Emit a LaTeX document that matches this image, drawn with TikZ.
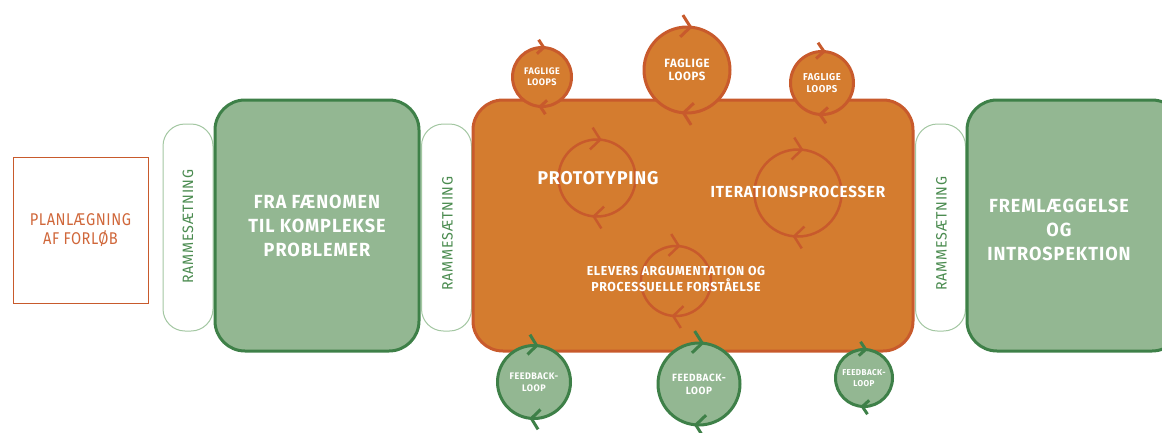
\documentclass[tikz,border=0pt]{standalone}
\usepackage{fontspec}
\setmainfont{Fira Sans}[FakeStretch=0.95, LetterSpace=5]
\newfontfamily\planfont{Fira Sans}[FakeStretch=0.86, LetterSpace=3]
\usetikzlibrary{arrows.meta, decorations.markings}

\definecolor{orangefill}{HTML}{D47C2F}
\definecolor{orangeline}{HTML}{C85A2C}
\definecolor{greenfill}{HTML}{93B792}
\definecolor{greenline}{HTML}{3E8048}
\definecolor{paleline}{HTML}{A3C7A2}
\definecolor{greentext}{HTML}{4A8B4F}
\definecolor{plantext}{HTML}{D0673A}

\tikzset{
  planbox/.style={draw=orangeline, line width=0.8pt, fill=white, minimum width=135pt, minimum height=146pt,
    inner sep=0pt, align=center, text=plantext, font=\planfont\fontsize{17}{19}\selectfont},
  framing/.style={draw=paleline, line width=1pt, fill=white, rounded corners=22pt,
    minimum width=50pt, minimum height=207pt, inner sep=0pt},
  framingtext/.style={rotate=90, text=greentext, font=\fontsize{15}{15}\selectfont},
  phase/.style={rounded corners=30pt, line width=3pt, inner sep=0pt, minimum height=251pt,
    text=white, align=center, font=\bfseries\fontsize{19}{24}\selectfont},
  greenphase/.style={phase, fill=greenfill, draw=greenline},
  orangephase/.style={phase, fill=orangefill, draw=orangeline},
  phasetext/.style={text=white, align=center, font=\bfseries\fontsize{19}{24}\selectfont},
  loopring/.style 2 args={circle, inner sep=0pt, postaction={decorate},
    decoration={markings,
      mark=at position 0.23 with {\arrowreversed{Straight Barb[length=#1, width=#2]}},
      mark=at position 0.73 with {\arrowreversed{Straight Barb[length=#1, width=#2]}}}},
  innerloop/.style={loopring={9pt}{22pt}, draw=orangeline, line width=2.5pt},
  fagligloop/.style={fill=orangefill, draw=orangeline, line width=3pt, text=white, align=center},
  feedbackloop/.style={fill=greenfill, draw=greenline, line width=3pt, text=white, align=center},
}

\begin{document}
\begin{tikzpicture}[x=1pt, y=-1pt]
\useasboundingbox (0,0) rectangle (1162,432);
\clip (0,0) rectangle (1162,432);

% planning
\node[planbox] (plan) at (80.5,230) {PLANLÆGNING\\AF FORLØB};

% framing pills
\node[framing] (frame1) at (188,227.5) {};
\node[framing] (frame2) at (446.5,227.5) {};
\node[framing] (frame3) at (940.5,227.5) {};
\node[framingtext] (frame1txt) at (188,226.5) {RAMMESÆTNING};
\node[framingtext] (frame2txt) at (447.5,233.5) {RAMMESÆTNING};
\node[framingtext] (frame3txt) at (941.5,233.5) {RAMMESÆTNING};

% phases
\node[greenphase, minimum width=204pt] (phenom) at (317,225.5) {FRA FÆNOMEN\\TIL KOMPLEKSE\\PROBLEMER};
\node[orangephase, minimum width=440pt] (proto) at (693,225.5) {};
\node[greenphase, minimum width=215pt] (present) at (1074.5,225.5) {};
\node[phasetext] (presenttxt) at (1059,229.5) {FREMLÆGGELSE\\OG\\INTROSPEKTION};

% loops inside the prototyping phase
\node[innerloop, minimum size=77pt] (protoloop) at (597,178) {};
\node[innerloop, minimum size=87pt] (iterloop) at (798,193) {};
\node[innerloop, minimum size=70pt] (argloop) at (676,281) {};
\node[phasetext, font=\bfseries\fontsize{18.5}{18.5}\selectfont] (prototxt) at (598,178) {PROTOTYPING};
\node[phasetext, font=\bfseries\fontsize{16}{16}\selectfont] (itertxt) at (798,191.5) {ITERATIONSPROCESSER};
\node[phasetext, font=\bfseries\fontsize{13}{16}\selectfont] (argtxt) at (676,279) {ELEVERS ARGUMENTATION OG\\PROCESSUELLE FORSTÅELSE};

% faglige loops
\node[fagligloop, loopring={6pt}{14pt}, minimum size=59pt, font=\bfseries\fontsize{9.5}{11}\selectfont] (faglig1) at (542,77) {FAGLIGE\\LOOPS};
\node[fagligloop, loopring={9pt}{22pt}, minimum size=86pt, font=\bfseries\fontsize{12}{13.5}\selectfont] (faglig2) at (687,70) {FAGLIGE\\LOOPS};
\node[fagligloop, loopring={7pt}{16pt}, minimum size=63pt, font=\bfseries\fontsize{10}{11.5}\selectfont] (faglig3) at (822,83) {FAGLIGE\\LOOPS};

% feedback loops
\node[feedbackloop, loopring={8pt}{20pt}, minimum size=73pt, font=\bfseries\fontsize{9.5}{12}\selectfont] (feedback1) at (534,382) {FEEDBACK-\\LOOP};
\node[feedbackloop, loopring={9pt}{22pt}, minimum size=82pt, font=\bfseries\fontsize{10.5}{13}\selectfont] (feedback2) at (699,384) {FEEDBACK-\\LOOP};
\node[feedbackloop, loopring={6pt}{14pt}, minimum size=57pt, font=\bfseries\fontsize{8.5}{10.5}\selectfont] (feedback3) at (864,378) {FEEDBACK-\\LOOP};
\end{tikzpicture}
\end{document}
